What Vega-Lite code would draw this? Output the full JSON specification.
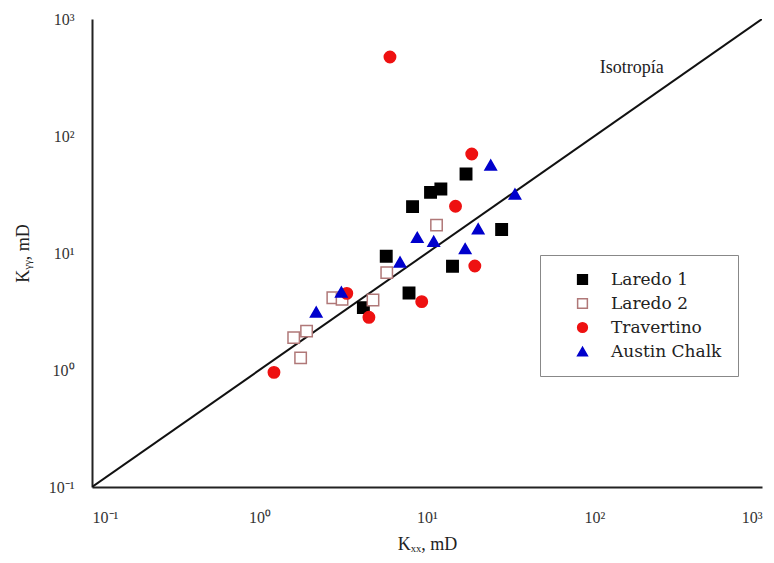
{
  "$schema": "https://vega.github.io/schema/vega-lite/v6.json",
  "width": 670,
  "height": 468,
  "autosize": {"type": "none"},
  "padding": {"left": 92, "top": 19, "right": 12, "bottom": 76},
  "background": "white",
  "config": {
    "view": {"stroke": null},
    "font": "Liberation Serif",
    "axis": {
      "grid": false,
      "ticks": false,
      "domainColor": "#222222",
      "domainWidth": 2,
      "labelFont": "Liberation Serif",
      "labelFontSize": 16,
      "labelColor": "#333333",
      "titleFont": "Liberation Serif",
      "titleFontSize": 18,
      "titleFontWeight": "normal",
      "titleColor": "#222222"
    },
    "legend": {
      "labelFont": "DejaVu Serif",
      "labelFontSize": 17,
      "labelColor": "#222222",
      "padding": 16,
      "strokeColor": "#888888",
      "fillColor": "white",
      "symbolOffset": 18,
      "labelOffset": 20,
      "rowPadding": 6,
      "symbolSize": 95,
      "symbolStrokeWidth": 1.5
    }
  },
  "encoding": {
    "x": {
      "field": "Kxx",
      "type": "quantitative",
      "scale": {"type": "log", "domain": [0.1, 1000], "nice": false},
      "axis": {
        "title": "Kₓₓ, mD",
        "values": [0.1, 1, 10, 100, 1000],
        "labelExpr": "round(log(datum.value)/LN10) == -1 ? '10⁻¹' : round(log(datum.value)/LN10) == 0 ? '10⁰' : round(log(datum.value)/LN10) == 1 ? '10¹' : round(log(datum.value)/LN10) == 2 ? '10²' : '10³'",
        "labelPadding": 22,
        "titlePadding": 10
      }
    },
    "y": {
      "field": "Kyy",
      "type": "quantitative",
      "scale": {"type": "log", "domain": [0.1, 1000], "nice": false},
      "axis": {
        "title": "Kᵧᵧ, mD",
        "values": [0.1, 1, 10, 100, 1000],
        "labelExpr": "round(log(datum.value)/LN10) == -1 ? '10⁻¹' : round(log(datum.value)/LN10) == 0 ? '10⁰' : round(log(datum.value)/LN10) == 1 ? '10¹' : round(log(datum.value)/LN10) == 2 ? '10²' : '10³'",
        "labelPadding": 18,
        "titlePadding": 16
      }
    }
  },
  "layer": [
    {
      "data": {"values": [{"Kxx": 0.1, "Kyy": 0.1}, {"Kxx": 1000, "Kyy": 1000}]},
      "mark": {"type": "line", "color": "#111111", "strokeWidth": 2, "clip": true},
      "encoding": {}
    },
    {
      "data": {"values": [
        {"Kxx": 17.1, "Kyy": 47.3, "Serie": "Laredo 1"},
        {"Kxx": 10.5, "Kyy": 33.0, "Serie": "Laredo 1"},
        {"Kxx": 12.1, "Kyy": 35.2, "Serie": "Laredo 1"},
        {"Kxx": 8.2, "Kyy": 24.9, "Serie": "Laredo 1"},
        {"Kxx": 27.9, "Kyy": 15.9, "Serie": "Laredo 1"},
        {"Kxx": 5.71, "Kyy": 9.37, "Serie": "Laredo 1"},
        {"Kxx": 14.2, "Kyy": 7.7, "Serie": "Laredo 1"},
        {"Kxx": 7.81, "Kyy": 4.55, "Serie": "Laredo 1"},
        {"Kxx": 4.17, "Kyy": 3.41, "Serie": "Laredo 1"},
        {"Kxx": 11.4, "Kyy": 17.3, "Serie": "Laredo 2"},
        {"Kxx": 5.75, "Kyy": 6.79, "Serie": "Laredo 2"},
        {"Kxx": 2.74, "Kyy": 4.15, "Serie": "Laredo 2"},
        {"Kxx": 3.11, "Kyy": 4.02, "Serie": "Laredo 2"},
        {"Kxx": 4.76, "Kyy": 3.97, "Serie": "Laredo 2"},
        {"Kxx": 1.91, "Kyy": 2.15, "Serie": "Laredo 2"},
        {"Kxx": 1.6, "Kyy": 1.89, "Serie": "Laredo 2"},
        {"Kxx": 1.76, "Kyy": 1.27, "Serie": "Laredo 2"},
        {"Kxx": 6.01, "Kyy": 473, "Serie": "Travertino"},
        {"Kxx": 18.5, "Kyy": 70.2, "Serie": "Travertino"},
        {"Kxx": 14.8, "Kyy": 25.1, "Serie": "Travertino"},
        {"Kxx": 19.3, "Kyy": 7.74, "Serie": "Travertino"},
        {"Kxx": 9.3, "Kyy": 3.84, "Serie": "Travertino"},
        {"Kxx": 3.32, "Kyy": 4.52, "Serie": "Travertino"},
        {"Kxx": 4.5, "Kyy": 2.82, "Serie": "Travertino"},
        {"Kxx": 1.22, "Kyy": 0.955, "Serie": "Travertino"},
        {"Kxx": 24.0, "Kyy": 56.5, "Serie": "Austin Chalk"},
        {"Kxx": 33.5, "Kyy": 31.9, "Serie": "Austin Chalk"},
        {"Kxx": 20.2, "Kyy": 16.1, "Serie": "Austin Chalk"},
        {"Kxx": 8.75, "Kyy": 13.6, "Serie": "Austin Chalk"},
        {"Kxx": 10.96, "Kyy": 12.6, "Serie": "Austin Chalk"},
        {"Kxx": 16.9, "Kyy": 10.9, "Serie": "Austin Chalk"},
        {"Kxx": 6.9, "Kyy": 8.38, "Serie": "Austin Chalk"},
        {"Kxx": 3.08, "Kyy": 4.64, "Serie": "Austin Chalk"},
        {"Kxx": 2.18, "Kyy": 3.13, "Serie": "Austin Chalk"}
      ]},
      "mark": {"type": "point", "filled": true, "strokeWidth": 1.5, "opacity": 1},
      "encoding": {
        "shape": {
          "field": "Serie", "type": "nominal",
          "scale": {"domain": ["Laredo 1", "Laredo 2", "Travertino", "Austin Chalk"], "range": ["square", "square", "circle", "triangle-up"]},
          "legend": {"title": null, "orient": "none", "legendX": 448, "legendY": 236}
        },
        "fill": {
          "field": "Serie", "type": "nominal",
          "scale": {"domain": ["Laredo 1", "Laredo 2", "Travertino", "Austin Chalk"], "range": ["#000000", "#ffffff", "#ee1111", "#0000cc"]},
          "legend": {"title": null, "orient": "none", "legendX": 448, "legendY": 236}
        },
        "stroke": {
          "field": "Serie", "type": "nominal",
          "scale": {"domain": ["Laredo 1", "Laredo 2", "Travertino", "Austin Chalk"], "range": ["#000000", "#b07878", "#ee1111", "#0000cc"]},
          "legend": {"title": null, "orient": "none", "legendX": 448, "legendY": 236}
        },
        "size": {"value": 130}
      }
    },
    {
      "data": {"values": [{"Kxx": 167, "Kyy": 381, "label": "Isotropía"}]},
      "mark": {"type": "text", "font": "Liberation Serif", "fontSize": 18, "color": "#222222", "align": "center", "baseline": "middle"},
      "encoding": {"text": {"field": "label"}}
    }
  ]
}
